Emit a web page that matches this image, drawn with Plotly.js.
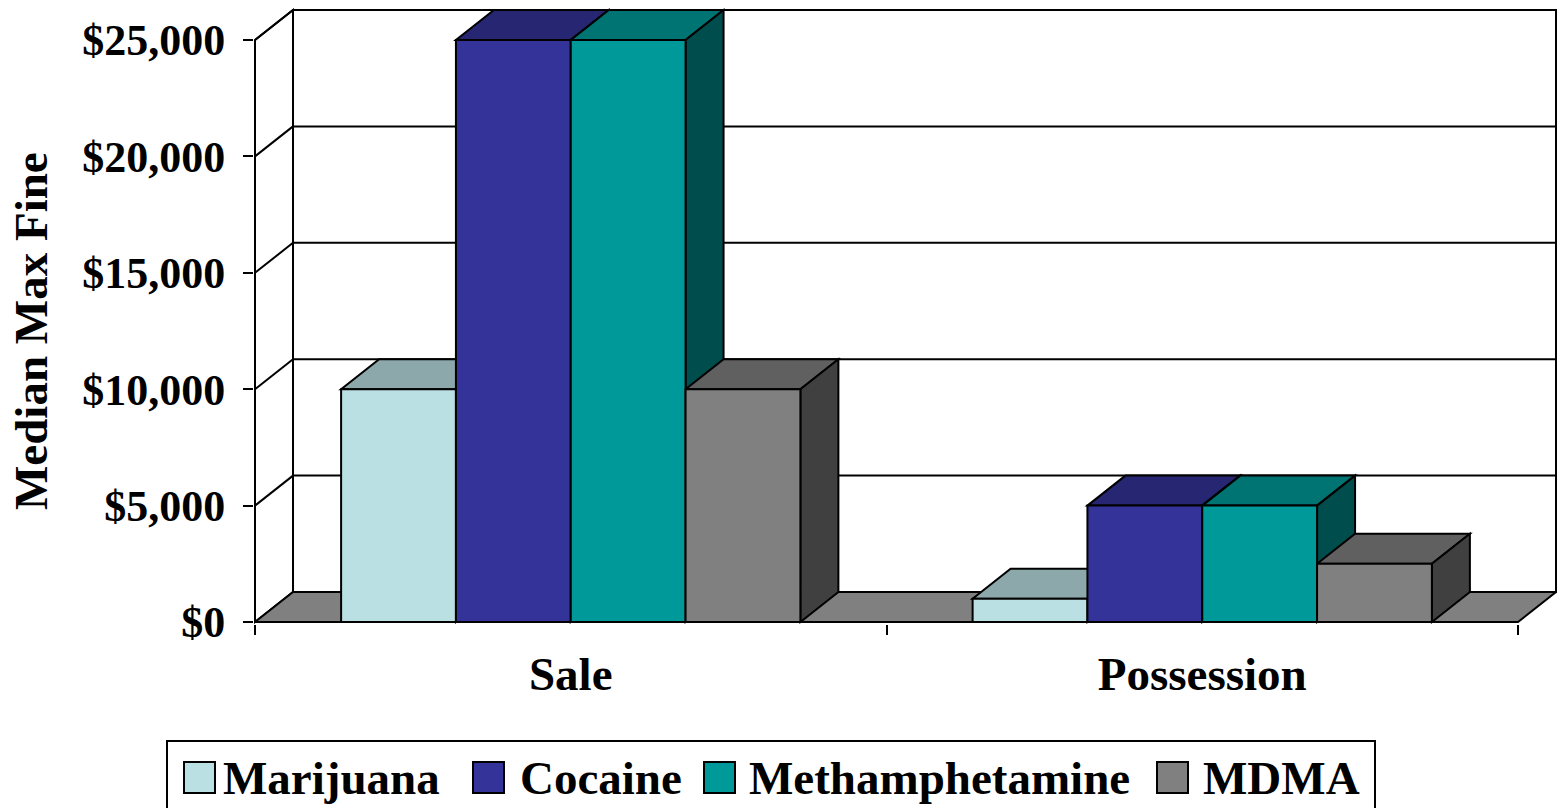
<!DOCTYPE html>
<html>
<head>
<meta charset="utf-8">
<script src="https://cdn.plot.ly/plotly-3.0.1.min.js"></script>
<style>
  html, body { margin: 0; padding: 0; background: #ffffff; }
  #chart { width: 1557px; height: 808px; }
</style>
</head>
<body>
<div id="chart"></div>
<script>
// ---------------- DATA ----------------
const categories = ['Sale', 'Possession'];
const seriesNames = ['Marijuana', 'Cocaine', 'Methamphetamine', 'MDMA'];
const marijuana = [10000, 1000];
const cocaine = [25000, 5000];
const methamphetamine = [25000, 5000];
const mdma = [10000, 2500];
const yTickVals = [0, 5000, 10000, 15000, 20000, 25000];
const yTitle = 'Median Max Fine';

// ---------------- STYLE ----------------
const seriesValues = [marijuana, cocaine, methamphetamine, mdma];
const frontColors = ['#BBE0E3', '#333399', '#009999', '#808080'];
const topColors   = ['#8CA8AA', '#262673', '#007373', '#606060'];
const sideColors  = ['#5E7072', '#1A1A4D', '#004D4D', '#404040'];
const FONT = '"Liberation Serif", "Times New Roman", serif';
const FS = 47;
const FS_Y = 44;

// pixel geometry of the plot box
const W = 1557, H = 808;
const mL = 254, mR = 0, mT = 8, mB = 184;
const catPx = 631.5;                 // pixels per category
const yMaxFront = 25000;
const pxPerY = 582 / yMaxFront;      // pixels per dollar
const depthXpx = 38, depthYpx = 30;  // 3-D depth offset
const dX = depthXpx / catPx;
const dY = depthYpx / pxPerY;
const xRange = [-1 / catPx, (W - mR - 255) / catPx];
const yRange = [-2 / pxPerY, (622 - mT) / pxPerY];
const nCat = categories.length;
const nSer = seriesNames.length;
const bargap = 1 - nSer / (nSer + 1.5);
const barW = (1 - bargap) / nSer;
const catX = categories.map((c, i) => i + 0.5);

// ---------------- TRACES (front faces) ----------------
const traces = seriesNames.map((name, s) => ({
  type: 'bar',
  name: name,
  x: catX,
  y: seriesValues[s],
  marker: { color: frontColors[s], line: { color: '#000000', width: 2 } },
  showlegend: false,
  hoverinfo: 'skip'
}));

// ---------------- SHAPES (walls, floor, 3-D faces) ----------------
const shapes = [];
const lineBlack = { color: '#000000', width: 2 };
function poly(pts) {
  return 'M' + pts.map(p => p[0] + ',' + p[1]).join(' L') + ' Z';
}
// back wall
shapes.push({ type: 'path', xref: 'x', yref: 'y', layer: 'below',
  path: poly([[dX, dY], [nCat + dX, dY], [nCat + dX, yMaxFront + dY], [dX, yMaxFront + dY]]),
  fillcolor: '#ffffff', line: lineBlack });
// left wall
shapes.push({ type: 'path', xref: 'x', yref: 'y', layer: 'below',
  path: poly([[0, 0], [dX, dY], [dX, yMaxFront + dY], [0, yMaxFront]]),
  fillcolor: '#ffffff', line: lineBlack });
// gridlines on back wall + diagonals on left wall
yTickVals.forEach(v => {
  if (v > 0 && v < yMaxFront) {
    shapes.push({ type: 'line', xref: 'x', yref: 'y', layer: 'below',
      x0: dX, x1: nCat + dX, y0: v + dY, y1: v + dY, line: lineBlack });
  }
  if (v > 0) {
    shapes.push({ type: 'line', xref: 'x', yref: 'y', layer: 'below',
      x0: 0, x1: dX, y0: v, y1: v + dY, line: lineBlack });
  }
});
// floor
shapes.push({ type: 'path', xref: 'x', yref: 'y', layer: 'below',
  path: poly([[0, 0], [nCat, 0], [nCat + dX, dY], [dX, dY]]),
  fillcolor: '#808080', line: lineBlack });
// bar tops and sides, left to right
for (let c = 0; c < nCat; c++) {
  for (let s = 0; s < nSer; s++) {
    const v = seriesValues[s][c];
    const x0 = catX[c] - (nSer / 2) * barW + s * barW;
    const x1 = x0 + barW;
    shapes.push({ type: 'path', xref: 'x', yref: 'y', layer: 'below',
      path: poly([[x0, v], [x1, v], [x1 + dX, v + dY], [x0 + dX, v + dY]]),
      fillcolor: topColors[s], line: lineBlack });
    shapes.push({ type: 'path', xref: 'x', yref: 'y', layer: 'below',
      path: poly([[x1, 0], [x1, v], [x1 + dX, v + dY], [x1 + dX, dY]]),
      fillcolor: sideColors[s], line: lineBlack });
  }
}
// front value axis line
shapes.push({ type: 'line', xref: 'x', yref: 'y', layer: 'above',
  x0: 0, x1: 0, y0: 0, y1: yMaxFront, line: lineBlack });

// ---------------- CUSTOM LEGEND ----------------
const plotW = W - mL - mR, plotH = H - mT - mB;
const px2x = px => (px - mL) / plotW;
const py2y = py => (H - mB - py) / plotH;
const legendBox = [167, 741, 1375, 812];
const legendSwatchX = [184, 473, 704, 1157];
const legendTextX = [221, 518, 747, 1201];
const swatchTop = 762, swatchSize = 31;
shapes.push({ type: 'rect', xref: 'paper', yref: 'paper', layer: 'above',
  x0: px2x(legendBox[0]), x1: px2x(legendBox[2]),
  y0: py2y(legendBox[1]), y1: py2y(legendBox[3]),
  fillcolor: 'rgba(0,0,0,0)', line: lineBlack });
const annotations = [];
seriesNames.forEach((name, s) => {
  shapes.push({ type: 'rect', xref: 'paper', yref: 'paper', layer: 'above',
    x0: px2x(legendSwatchX[s]), x1: px2x(legendSwatchX[s] + swatchSize),
    y0: py2y(swatchTop), y1: py2y(swatchTop + swatchSize),
    fillcolor: frontColors[s], line: lineBlack });
  annotations.push({ xref: 'paper', yref: 'paper', x: px2x(legendTextX[s]), y: py2y(778),
    xanchor: 'left', yanchor: 'middle', showarrow: false, text: '<b>' + name + '</b>',
    font: { family: FONT, size: FS, color: '#000000' } });
});
// y axis title
annotations.push({ xref: 'paper', yref: 'paper', x: px2x(31), y: py2y(331),
  xanchor: 'center', yanchor: 'middle', showarrow: false, textangle: -90,
  text: '<b>' + yTitle + '</b>', font: { family: FONT, size: FS, color: '#000000' } });

// ---------------- LAYOUT ----------------
const layout = {
  width: W, height: H,
  margin: { l: mL, r: mR, t: mT, b: mB, pad: 0 },
  paper_bgcolor: '#ffffff', plot_bgcolor: '#ffffff',
  barmode: 'group', bargap: bargap, bargroupgap: 0,
  showlegend: false,
  xaxis: {
    range: xRange, fixedrange: true, automargin: false,
    showgrid: false, zeroline: false, showline: false,
    tickmode: 'array', tickvals: catX, ticktext: categories.map(c => '<b>' + c + '</b>'),
    ticks: '', ticklabelstandoff: 18,
    tickfont: { family: FONT, size: FS, color: '#000000' },
    minor: { tickmode: 'array', tickvals: [0, 1, 2], ticks: 'outside', ticklen: 10,
      tickwidth: 2, tickcolor: '#000000', showgrid: false }
  },
  yaxis: {
    range: yRange, fixedrange: true, automargin: false,
    showgrid: false, zeroline: false, showline: false,
    tickmode: 'array', tickvals: yTickVals,
    ticktext: yTickVals.map(v => '<b>$' + v.toLocaleString('en-US') + '</b>'),
    ticks: 'outside', ticklen: 10, tickwidth: 2, tickcolor: '#000000',
    ticklabelstandoff: 9,
    tickfont: { family: FONT, size: FS_Y, color: '#000000' }
  },
  shapes: shapes,
  annotations: annotations
};

Plotly.newPlot('chart', traces, layout, { displayModeBar: false, staticPlot: true });
</script>
</body>
</html>
